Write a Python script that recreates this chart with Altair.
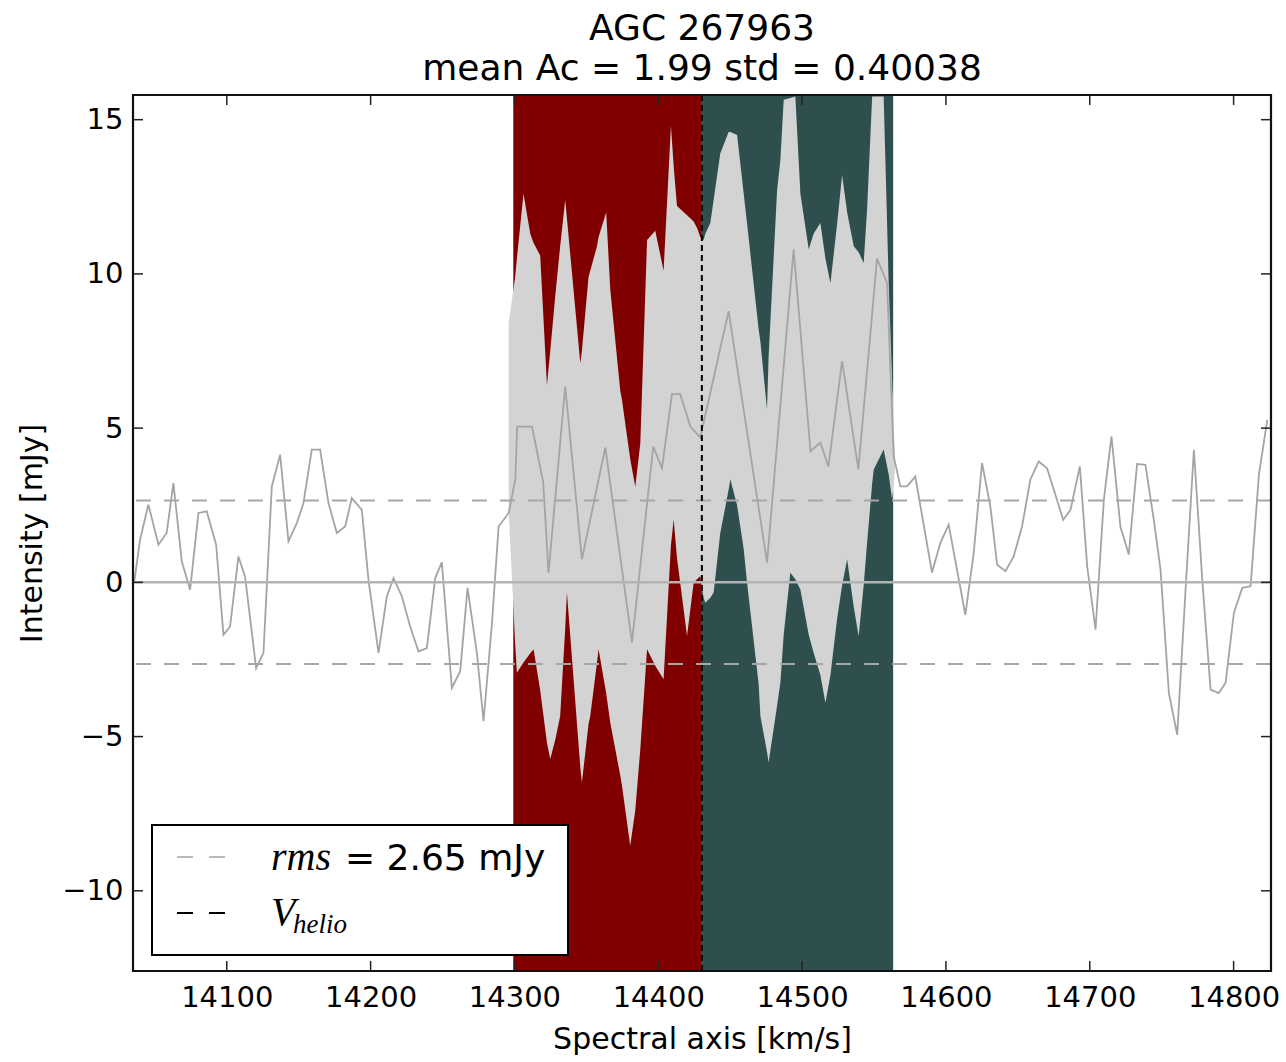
import altair as alt
import pandas as pd

# ---------------- data ----------------
# main spectrum (velocity km/s, intensity mJy)
spec_vel = [14035.5, 14036.2, 14039.7, 14045.5, 14052.5, 14058.2, 14062.9, 14068.7, 14074.5, 14080.3,
            14086.1, 14092.6, 14097.7, 14102.3, 14108.1, 14112.7, 14120.4, 14125.5, 14131.3, 14137.1,
            14142.9, 14148.7, 14153.3, 14159.1, 14164.9, 14170.7, 14176.5, 14182.3, 14186.9, 14193.9,
            14198.5, 14205.5, 14211.3, 14215.9, 14221.7, 14227.5, 14233.3, 14239.1, 14244.9, 14249.5,
            14256.5, 14262.3, 14267.4, 14273.9, 14278.5, 14284.3, 14289.0, 14296.0, 14300.6,
            14301.9, 14312.2, 14320.0, 14323.7, 14335.3, 14346.9, 14363.2, 14381.7, 14396.5, 14402.6,
            14409.5, 14415.3, 14422.3, 14429.2, 14448.9, 14475.6, 14494.1, 14505.8, 14512.7, 14518.3,
            14527.8, 14539.1, 14552.1, 14559.1,
            14563.7, 14568.3, 14572.9, 14578.7, 14590.3, 14596.1, 14601.9, 14613.5, 14619.3, 14625.1,
            14630.9, 14635.6, 14641.4, 14647.1, 14652.9, 14658.7, 14664.5, 14670.3, 14676.1, 14681.5,
            14686.6, 14693.1, 14698.2, 14704.0, 14709.8, 14715.1, 14721.3, 14727.1, 14732.9, 14738.7,
            14744.5, 14749.2, 14755.0, 14760.8, 14766.6, 14772.4, 14778.2, 14784.0, 14789.7, 14794.4,
            14800.2, 14806.0, 14811.8, 14817.6, 14823.4]
spec_val = [0.0, 0.19, 1.38, 2.52, 1.22, 1.60, 3.22, 0.68, -0.24, 2.25,
            2.30, 1.22, -1.70, -1.43, 0.84, 0.19, -2.78, -2.29, 3.11, 4.14,
            1.33, 1.92, 2.57, 4.30, 4.30, 2.57, 1.60, 1.81, 2.73, 2.35,
            0.09, -2.29, -0.45, 0.14, -0.45, -1.43, -2.24, -2.13, 0.14, 0.65,
            -3.42, -2.88, -0.18, -2.29, -4.50, -1.37, 1.81, 2.25, 3.33,
            5.05, 5.05, 3.24, 0.31, 6.35, 0.75, 4.37, -1.95, 4.40, 3.70,
            6.10, 6.10, 5.05, 4.70, 8.79, 0.64, 10.80, 4.25, 4.53, 3.76,
            7.17, 3.66, 10.50, 9.70,
            4.08, 3.11, 3.11, 3.43, 0.32, 1.27, 1.87, -1.05, 0.95, 3.87,
            2.46, 0.57, 0.36, 0.84, 1.81, 3.33, 3.92, 3.70, 2.84, 2.03,
            2.35, 3.76, 0.52, -1.53, 2.68, 4.73, 1.81, 0.90, 3.84, 3.81,
            2.03, 0.41, -3.59, -4.94, -0.24, 4.30, 0.09, -3.48, -3.59, -3.26,
            -0.99, -0.18, -0.13, 3.49, 5.27]

# envelope of the overplotted light-grey spectra inside the shaded windows
env_vel = [14296.0, 14300.5, 14301.7, 14306.3, 14311.0, 14313.3, 14317.9, 14322.6, 14324.9, 14328.4,
           14331.8, 14335.3, 14336.5, 14345.8, 14346.9, 14351.5, 14352.7, 14357.4, 14358.5, 14363.8,
           14366.6, 14373.6, 14374.8, 14380.5, 14384.0, 14387.5, 14392.2, 14397.9, 14403.7, 14408.8,
           14410.7, 14413.0, 14420.0, 14424.6, 14426.9, 14429.2, 14431.5, 14432.7, 14436.2, 14438.5,
           14443.1, 14448.9, 14450.1, 14454.8, 14459.4, 14461.7, 14469.8, 14471.0, 14475.6, 14476.7,
           14482.6, 14484.9, 14487.2, 14491.8, 14495.3, 14498.8, 14504.6, 14508.0, 14512.7, 14516.2,
           14519.7, 14524.3, 14527.8, 14531.3, 14535.9, 14539.3, 14542.8, 14545.2, 14548.7, 14549.8,
           14556.7, 14560.2, 14562.6, 14564.5]
env_hi = [8.4, 9.9, 10.5, 12.6, 11.3, 11.0, 10.6, 6.4, 7.5, 9.3,
          10.9, 12.4, 11.8, 7.1, 7.5, 9.9, 10.1, 10.9, 11.2, 12.0,
          9.5, 6.2, 5.9, 4.0, 3.1, 4.5, 11.1, 11.4, 10.1, 14.8,
          13.5, 12.2, 11.9, 11.7, 11.5, 11.2, 11.1, 11.3, 11.65, 12.4,
          13.9, 14.6, 14.6, 14.5, 12.6, 11.65, 8.2, 7.8, 5.6, 7.3,
          12.7, 13.7, 15.65, 15.7, 15.75, 12.6, 10.8, 11.3, 11.65, 10.5,
          9.7, 11.6, 13.2, 12.0, 10.9, 10.7, 10.35, 12.1, 15.75, 15.75,
          15.75, 9.7, 6.5, 4.1]
env_lo = [2.3, -2.0, -2.93, -2.6, -2.3, -2.17, -3.5, -5.2, -5.73, -5.1,
          -4.33, -1.5, -0.33, -6.0, -6.49, -4.6, -4.33, -2.6, -2.17, -3.6,
          -4.54, -6.27, -6.6, -8.54, -7.4, -5.41, -2.17, -2.7, -3.14, 1.2,
          2.04, 0.8, -1.74, -0.01, 0.1, 0.2, -0.5, -0.66, -0.5, -0.33,
          1.6, 3.0, 3.34, 2.5, 1.07, 0.0, -3.3, -4.33, -5.5, -5.84,
          -4.0, -3.25, -1.7, 0.31, 0.1, -0.23, -1.7, -2.28, -3.0, -3.9,
          -3.0, -1.2, -0.1, 0.75, -0.8, -1.74, -0.1, 1.29, 3.2, 3.66,
          4.31, 3.5, 2.69, 3.6]

span_start = [14299.2, 14430.3]
span_end = [14430.3, 14563.3]
span_color = ["#800000", "#2F4F4F"]

rms = 2.65
v_helio = 14430.3
x_ticks = [14100, 14200, 14300, 14400, 14500, 14600, 14700, 14800]
y_ticks = [-10, -5, 0, 5, 10, 15]
x_domain = [14034.8, 14826.0]
y_domain = [-12.6, 15.8]

title_lines = ["AGC 267963", "mean Ac = 1.99 std = 0.40038"]

# ---------------- chart ----------------
W, H = 1138, 876
FONT = "DejaVu Sans"

xscale = alt.Scale(domain=x_domain, nice=False, zero=False)
yscale = alt.Scale(domain=y_domain, nice=False, zero=False)
xaxis = alt.Axis(values=x_ticks, format="d", grid=False, ticks=False, domain=False,
                 labelFontSize=29, labelFont=FONT, labelColor="black", labelPadding=12,
                 title="Spectral axis [km/s]", titleFontSize=30, titleFont=FONT,
                 titleFontWeight="normal", titleColor="black", titlePadding=12)
yaxis = alt.Axis(values=y_ticks, format="d", grid=False, ticks=False, domain=False,
                 labelFontSize=29, labelFont=FONT, labelColor="black", labelPadding=10,
                 title="Intensity [mJy]", titleFontSize=30, titleFont=FONT,
                 titleFontWeight="normal", titleColor="black", titlePadding=14)


def X(f):
    return alt.X(f, type="quantitative", scale=xscale, axis=xaxis)


def X2(f):
    return alt.X2(f)


def Y(f):
    return alt.Y(f, type="quantitative", scale=yscale, axis=yaxis)


spans = pd.DataFrame({"vel": span_start, "vel2": span_end, "c": span_color})
env = pd.DataFrame({"vel": env_vel, "val": env_hi, "val2": env_lo})
spec = pd.DataFrame({"vel": spec_vel, "val": spec_val})
zero = pd.DataFrame({"val": [0.0]})
rmsdf = pd.DataFrame({"val": [rms, -rms]})
vh = pd.DataFrame({"vel": [v_helio]})
xt = pd.DataFrame({"vel": x_ticks})
yt = pd.DataFrame({"val": y_ticks})
one = pd.DataFrame({"a": [0]})

span_layer = alt.Chart(spans).mark_rect().encode(
    x=X("vel"), x2=X2("vel2"), y=alt.value(0), y2=alt.value(H),
    color=alt.Color("c:N", scale=None))

env_layer = alt.Chart(env).mark_area(color="#d3d3d3", clip=True, opacity=1).encode(
    x=X("vel"), y=Y("val"), y2=alt.Y2("val2"))

spec_layer = alt.Chart(spec).mark_line(color="#a4a4a4", strokeWidth=1.8, clip=True).encode(
    x=X("vel"), y=Y("val"))

zero_layer = alt.Chart(zero).mark_rule(color="#b3b3b3", strokeWidth=2.5).encode(y=Y("val"))

rms_layer = alt.Chart(rmsdf).mark_rule(color="#a6a6a6", strokeWidth=2, strokeDash=[15, 13]).encode(
    y=Y("val"))

vh_layer = alt.Chart(vh).mark_rule(color="black", strokeWidth=2, strokeDash=[6, 4]).encode(
    x=X("vel"))

TL = 10
tick_col = "#222222"
xt_top = alt.Chart(xt).mark_rule(color=tick_col, strokeWidth=1.5).encode(
    x=X("vel"), y=alt.value(0), y2=alt.value(TL))
xt_bot = alt.Chart(xt).mark_rule(color=tick_col, strokeWidth=1.5).encode(
    x=X("vel"), y=alt.value(H), y2=alt.value(H - TL))
yt_left = alt.Chart(yt).mark_rule(color=tick_col, strokeWidth=1.5).encode(
    y=Y("val"), x=alt.value(0), x2=alt.value(TL))
yt_right = alt.Chart(yt).mark_rule(color=tick_col, strokeWidth=1.5).encode(
    y=Y("val"), x=alt.value(W), x2=alt.value(W - TL))

# plot frame (matplotlib spines)
frame = alt.Chart(one).mark_rect(fill=None, fillOpacity=0, stroke="#111111", strokeWidth=2.2).encode(
    x=alt.value(0), x2=alt.value(W), y=alt.value(0), y2=alt.value(H))

# legend (drawn by hand to match matplotlib's box)
leg_box = alt.Chart(one).mark_rect(fill="white", stroke="black", strokeWidth=2).encode(
    x=alt.value(19), x2=alt.value(435), y=alt.value(730), y2=alt.value(860))
leg_rms_line = alt.Chart(one).mark_rule(color="#b8b8b8", strokeWidth=2, strokeDash=[16, 16]).encode(
    x=alt.value(44), x2=alt.value(94), y=alt.value(762))
leg_vh_line = alt.Chart(one).mark_rule(color="black", strokeWidth=2, strokeDash=[16, 16]).encode(
    x=alt.value(44), x2=alt.value(94), y=alt.value(818))
leg_rms_it = alt.Chart(one).mark_text(font="Liberation Serif", fontStyle="italic", fontSize=40,
                                      align="left", baseline="alphabetic", color="black").encode(
    x=alt.value(138), y=alt.value(775), text=alt.value("rms"))
leg_rms_txt = alt.Chart(one).mark_text(font=FONT, fontSize=36, align="left",
                                       baseline="alphabetic", color="black").encode(
    x=alt.value(212), y=alt.value(775), text=alt.value("= 2.65 mJy"))
leg_V = alt.Chart(one).mark_text(font="Liberation Serif", fontStyle="italic", fontSize=40,
                                 align="left", baseline="alphabetic", color="black").encode(
    x=alt.value(138), y=alt.value(830), text=alt.value("V"))
leg_helio = alt.Chart(one).mark_text(font="Liberation Serif", fontStyle="italic", fontSize=27,
                                     align="left", baseline="alphabetic", color="black").encode(
    x=alt.value(160), y=alt.value(838), text=alt.value("helio"))

chart = alt.layer(
    span_layer, env_layer, spec_layer, zero_layer, rms_layer, vh_layer,
    xt_top, xt_bot, yt_left, yt_right, frame,
    leg_box, leg_rms_line, leg_vh_line, leg_rms_it, leg_rms_txt, leg_V, leg_helio,
).properties(
    width=W, height=H,
    title=alt.TitleParams(text=title_lines, fontSize=36, font=FONT, fontWeight="normal",
                          color="black", anchor="middle", lineHeight=40, offset=6),
    autosize=alt.AutoSizeParams(type="none"),
    padding={"left": 133, "top": 95, "right": 15, "bottom": 91},
).configure_view(stroke="#1a1a1a", strokeWidth=2).configure(font=FONT, background="white")

chart.save("out.html", embed_options={"renderer": "svg", "actions": False})
